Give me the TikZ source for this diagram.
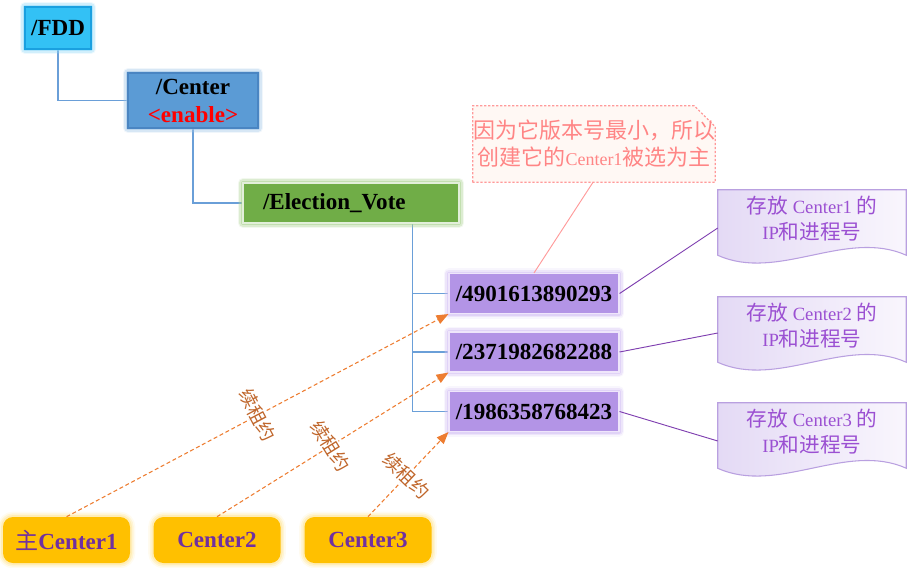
\documentclass[tikz,border=0pt]{standalone}
\usepackage{fontspec}
\setmainfont{Liberation Serif}
\newfontfamily\cjk{Noto Sans CJK SC}
\usetikzlibrary{arrows.meta,calc,backgrounds}
\definecolor{fddfill}{HTML}{33C1F5}
\definecolor{fddline}{HTML}{1AA0E0}
\definecolor{fddglow}{HTML}{8ED8F8}
\definecolor{centerfill}{HTML}{5B9BD5}
\definecolor{centerline}{HTML}{4A85C2}
\definecolor{centerglow}{HTML}{9DC3E6}
\definecolor{evfill}{HTML}{70AD47}
\definecolor{evline}{HTML}{E2EFDA}
\definecolor{evglow}{HTML}{A9D18E}
\definecolor{idfill}{HTML}{B394E6}
\definecolor{idline}{HTML}{EFE6FB}
\definecolor{idglow}{HTML}{D3C0F3}
\definecolor{treeblue}{HTML}{6A9FD8}
\definecolor{notefill}{HTML}{FFF8F4}
\definecolor{noteline}{HTML}{FF9A9A}
\definecolor{notetext}{HTML}{FF8585}
\definecolor{docline}{HTML}{B9A0E0}
\definecolor{docfillA}{HTML}{E4DAF5}
\definecolor{docfillB}{HTML}{F9F6FD}
\definecolor{doctext}{HTML}{9B50D2}
\definecolor{docconn}{HTML}{7F3FB0}
\definecolor{cyellow}{HTML}{FFC000}
\definecolor{cpurple}{HTML}{7030A0}
\definecolor{cglow}{HTML}{FFE699}
\definecolor{leaseorange}{HTML}{ED7D31}
\definecolor{leasebrown}{HTML}{C0662B}
\definecolor{enablered}{HTML}{FF0000}
\begin{document}
\begin{tikzpicture}[x=0.75pt,y=-0.75pt,
  glow/.style={preaction={draw=#1,line width=8pt,opacity=0.15,line join=round},
               preaction={draw=#1,line width=5.5pt,opacity=0.3,line join=round},
               preaction={draw=#1,line width=3pt,opacity=0.5,line join=round}},
  boxfont/.style={font=\bfseries\fontsize{17.3}{21}\selectfont},
  fddbox/.style={boxfont, fill=fddfill, draw=fddline, line width=0.8pt, glow=fddglow,
    minimum width=49.5pt, minimum height=31.5pt, inner sep=0pt},
  centerbox/.style={boxfont, fill=centerfill, draw=centerline, line width=0.8pt, glow=centerglow,
    minimum width=97.5pt, minimum height=41.25pt, inner sep=0pt, align=center},
  evbox/.style={boxfont, fill=evfill, draw=evline, line width=0.8pt, glow=evglow,
    text width=132pt, inner xsep=15pt, inner ysep=0pt, minimum height=30pt, align=left},
  idbox/.style={boxfont, fill=idfill, draw=idline, line width=0.8pt, glow=idglow,
    minimum width=127.5pt, minimum height=30pt, inner sep=0pt},
  tree/.style={draw=treeblue, line width=0.8pt},
  notebox/.style={font=\cjk\fontsize{16.5}{20.25}\selectfont, text=notetext,
    minimum width=180pt, minimum height=57pt, inner sep=0pt, align=center},
  noteshape/.style={draw=noteline, fill=notefill, line width=1pt, dash pattern=on 1.6pt off 1.4pt},
  doctextbox/.style={font=\cjk\fontsize{15.5}{19.5}\selectfont, text=doctext,
    minimum width=141pt, minimum height=43.5pt, inner sep=0pt, align=center},
  docshape/.style={draw=docline, line width=0.8pt, left color=docfillA, right color=docfillB},
  docconnline/.style={draw=docconn, line width=0.7pt},
  cbox/.style={boxfont, fill=cyellow, text=cpurple, rounded corners=7.5pt, glow=cglow,
    minimum width=95.25pt, minimum height=34.5pt, inner sep=0pt},
  lease/.style={draw=leaseorange, line width=0.8pt, dash pattern=on 3pt off 2pt,
    -{Triangle[length=9pt,width=7pt]}},
  leaselabel/.style={sloped, rotate=-90, fill=white, inner sep=0.5pt, text=leasebrown,
    font=\cjk\fontsize{14}{16}\selectfont}
]
\useasboundingbox (0,0) rectangle (908,568);

% tree nodes
\node[fddbox] (fdd) at (58,28) {/FDD};
\node[centerbox] (center) at (193,100.5) {/Center\\\textcolor{enablered}{<enable>}};
\node[evbox] (ev) at (351,203) {/Election\_Vote};
\node[idbox] (b1) at (534,293.5) {/4901613890293};
\node[idbox] (b2) at (534,352) {/2371982682288};
\node[idbox] (b3) at (534,411.5) {/1986358768423};
\coordinate (fork) at ($(ev.south east)+(-47,0)$);

% tree connectors
\begin{scope}[on background layer]
\draw[tree] (fdd.south) |- (center.west);
\draw[tree] (center.south) |- (ev.west);
\draw[tree] (fork) |- (b3.west);
\draw[tree] (fork) |- (b1.west);
\draw[tree] (fork) |- (b2.west);
\end{scope}

% callout note
\node[notebox] (note) at (594,144) {因为它版本号最小，所以\\创建它的{\rmfamily\fontsize{13.5}{20.25}\selectfont Center1}被选为主};
\begin{scope}[on background layer]
\path[noteshape] (note.south west) -- (note.north west) -- ($(note.north east)+(-21,0)$)
  -- ($(note.north east)+(0,21)$) -- (note.south east) -- cycle;
\end{scope}
\draw[draw=noteline, line width=0.7pt] ($(note.south)+(-1,0)$) -- (b1.north);

% documents
\node[doctextbox] (d1) at (812,219) {存放 {\rmfamily\fontsize{14}{19.5}\selectfont Center1} 的\\{\rmfamily\fontsize{14}{19.5}\selectfont IP}和进程号};
\node[doctextbox] (d2) at (812,326) {存放 {\rmfamily\fontsize{14}{19.5}\selectfont Center2} 的\\{\rmfamily\fontsize{14}{19.5}\selectfont IP}和进程号};
\node[doctextbox] (d3) at (812,432) {存放 {\rmfamily\fontsize{14}{19.5}\selectfont Center3} 的\\{\rmfamily\fontsize{14}{19.5}\selectfont IP}和进程号};
\begin{scope}[on background layer]
\foreach \d in {d1,d2,d3}{
  \path[docshape] (\d.north west) -- (\d.north east) -- ($(\d.south east)+(0,7)$)
    .. controls ($(\d.south east)+(-60,-20)$) and ($(\d.south west)+(60,34)$) ..
    ($(\d.south west)+(0,7)$) -- cycle;
}
\end{scope}
\draw[docconnline] (b1.east) -- ($(d1.west)+(0,9)$);
\draw[docconnline] (b2.east) -- ($(d2.west)+(0,7)$);
\draw[docconnline] (b3.east) -- ($(d3.west)+(0,9)$);

% centers
\node[cbox] (c1) at (66.5,540) {{\cjk\mdseries 主}Center1};
\node[cbox] (c2) at (217,540) {Center2};
\node[cbox] (c3) at (368,540) {Center3};

% lease arrows
\draw[lease] (c1.north) -- node[leaselabel, pos=0.5] {续租约} (b1.south west);
\draw[lease] (c2.north) -- node[leaselabel, pos=0.49] {续租约} (b2.south west);
\draw[lease] (c3.north) -- node[leaselabel, pos=0.48] {续租约} (b3.south west);
\end{tikzpicture}
\end{document}
